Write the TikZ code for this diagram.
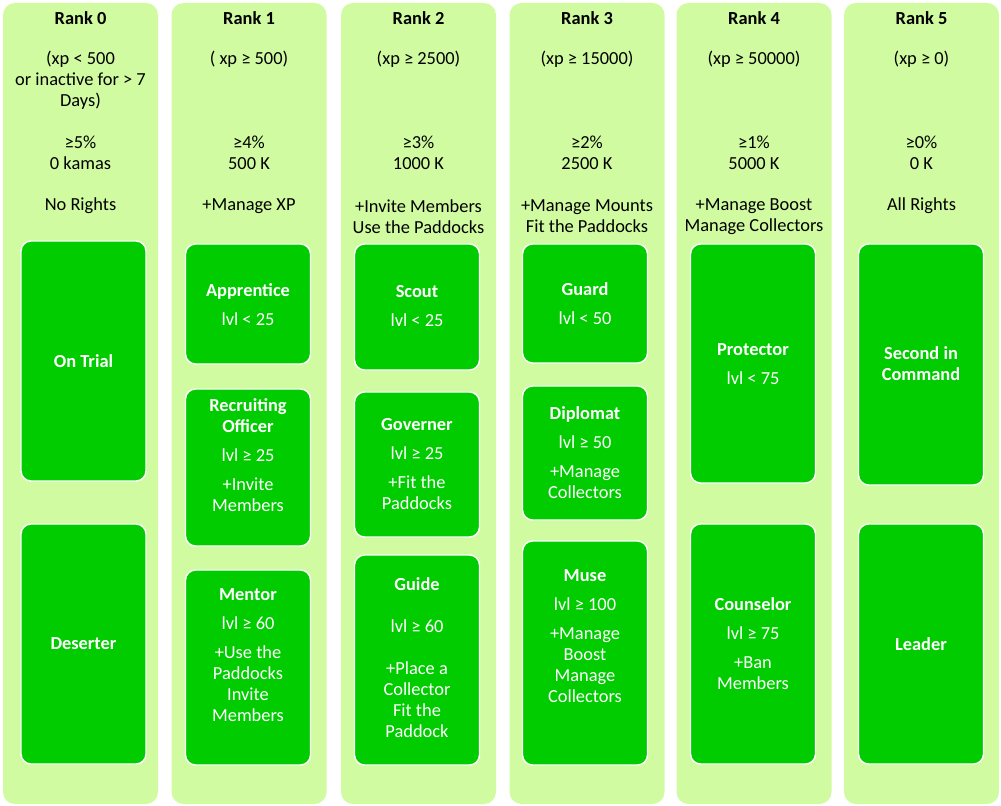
\documentclass[tikz,border=0pt]{standalone}
\usepackage{fontspec}
\setmainfont{Carlito}
\usepackage{xcolor}
\definecolor{lightlime}{RGB}{208, 251, 160}
\definecolor{rolegreen}{RGB}{0, 204, 0}
\newcommand{\ranksize}{\fontsize{13.8pt}{15.75pt}\selectfont}

\begin{document}
\begin{tikzpicture}[x=0.75pt, y=-0.75pt,
    rankcol/.style={fill=lightlime, rounded corners=9pt, minimum width=116.25pt, minimum height=600.75pt, inner sep=0pt},
    rankhead/.style={font=\ranksize\bfseries, align=center, inner sep=0pt},
    rankinfo/.style={font=\ranksize, align=center, inner sep=0pt},
    rolebox/.style={fill=rolegreen, draw=white, line width=1.1pt, rounded corners=7.5pt, minimum width=93.75pt, inner sep=0pt},
    roletext/.style={font=\ranksize, text=white, align=center, inner sep=0pt}]
        \useasboundingbox (0,0) rectangle (1001,806);

        % rank columns
        \node[rankcol] (col0) at (80.5,403.5) {};
        \node[rankcol] (col1) at (249,403.5) {};
        \node[rankcol] (col2) at (418.5,403.5) {};
        \node[rankcol] (col3) at (587,403.5) {};
        \node[rankcol] (col4) at (754,403.5) {};
        \node[rankcol] (col5) at (921.5,403.5) {};

        % headers
        \node[rankhead] (rank0) at (80.5,18) {Rank 0};
        \node[rankhead] (rank1) at (249,18) {Rank 1};
        \node[rankhead] (rank2) at (418.5,18) {Rank 2};
        \node[rankhead] (rank3) at (587,18) {Rank 3};
        \node[rankhead] (rank4) at (754,18) {Rank 4};
        \node[rankhead] (rank5) at (921.5,18) {Rank 5};

        \node[rankinfo] (cond0) at (80.5,80) {(xp < 500\\or inactive for > 7\\Days)};
        \node[rankinfo] (cond1) at (249,59) {( xp ≥ 500)};
        \node[rankinfo] (cond2) at (418.5,59) {(xp ≥ 2500)};
        \node[rankinfo] (cond3) at (587,59) {(xp ≥ 15000)};
        \node[rankinfo] (cond4) at (754,59) {(xp ≥ 50000)};
        \node[rankinfo] (cond5) at (921.5,59) {(xp ≥ 0)};

        \node[rankinfo] (tax0) at (80.5,153) {≥5\%\\0 kamas};
        \node[rankinfo] (tax1) at (249,153) {≥4\%\\500 K};
        \node[rankinfo] (tax2) at (418.5,153) {≥3\%\\1000 K};
        \node[rankinfo] (tax3) at (587,153) {≥2\%\\2500 K};
        \node[rankinfo] (tax4) at (754,153) {≥1\%\\5000 K};
        \node[rankinfo] (tax5) at (921.5,153) {≥0\%\\0 K};

        \node[rankinfo] (rights0) at (80.5,206) {No Rights};
        \node[rankinfo] (rights1) at (249,206) {+Manage XP};
        \node[rankinfo] (rights2) at (418.5,216.5) {+Invite Members\\Use the Paddocks};
        \node[rankinfo] (rights3) at (587,216.5) {+Manage Mounts\\Fit the Paddocks};
        \node[rankinfo] (rights4) at (754,216.5) {+Manage Boost\\Manage Collectors};
        \node[rankinfo] (rights5) at (921.5,206) {All Rights};

        % rank 0
        \node[rolebox, minimum height=180pt] (ontrial) at (83.5,361) {};
        \node[rolebox, minimum height=180pt] (deserter) at (83.5,644) {};
        \node[roletext] (ontrial-t) at (83.5,361) {\textbf{On Trial}};
        \node[roletext] (deserter-t) at (83.5,644) {\textbf{Deserter}};

        % rank 1
        \node[rolebox, minimum height=90pt] (apprentice) at (248,304) {};
        \node[rolebox, minimum height=117.75pt] (recruiter) at (248,467.5) {};
        \node[rolebox, minimum height=146.25pt] (mentor) at (248,667.5) {};
        \node[roletext] (apprentice-t) at (248,304.5) {\textbf{Apprentice}\\[6pt]lvl < 25};
        \node[roletext] (recruiter-t) at (248,455) {\textbf{Recruiting}\\\textbf{Officer}\\[6pt]lvl ≥ 25\\[6pt]+Invite\\Members};
        \node[roletext] (mentor-t) at (248,655) {\textbf{Mentor}\\[6pt]lvl ≥ 60\\[6pt]+Use the\\Paddocks\\Invite\\Members};

        % rank 2
        \node[rolebox, minimum height=94.5pt] (scout) at (417,307) {};
        \node[rolebox, minimum height=108.75pt] (governer) at (417,464.5) {};
        \node[rolebox, minimum height=157.5pt] (guide) at (417,660) {};
        \node[roletext] (scout-t) at (417,306.5) {\textbf{Scout}\\[6pt]lvl < 25};
        \node[roletext] (governer-t) at (417,464) {\textbf{Governer}\\[6pt]lvl ≥ 25\\[6pt]+Fit the\\Paddocks};
        \node[roletext] (guide-t) at (417,658) {\textbf{Guide}\\[15.75pt]lvl ≥ 60\\[15.75pt]+Place a\\Collector\\Fit the\\Paddock};

        % rank 3
        \node[rolebox, minimum height=89.25pt] (guard) at (585,303.5) {};
        \node[rolebox, minimum height=100.5pt] (diplomat) at (585,453) {};
        \node[rolebox, minimum height=168pt] (muse) at (585,653) {};
        \node[roletext] (guard-t) at (585,303.5) {\textbf{Guard}\\[6pt]lvl < 50};
        \node[roletext] (diplomat-t) at (585,452.5) {\textbf{Diplomat}\\[6pt]lvl ≥ 50\\[6pt]+Manage\\Collectors};
        \node[roletext] (muse-t) at (585,636) {\textbf{Muse}\\[6pt]lvl ≥ 100\\[6pt]+Manage\\Boost\\Manage\\Collectors};

        % rank 4
        \node[rolebox, minimum height=179.25pt] (protector) at (753,363.5) {};
        \node[rolebox, minimum height=180pt] (counselor) at (753,644) {};
        \node[roletext] (protector-t) at (753,364.5) {\textbf{Protector}\\[6pt]lvl < 75};
        \node[roletext] (counselor-t) at (753,644) {\textbf{Counselor}\\[6pt]lvl ≥ 75\\[6pt]+Ban\\Members};

        % rank 5
        \node[rolebox, minimum height=180.75pt] (second) at (921,364.5) {};
        \node[rolebox, minimum height=180pt] (leader) at (921,644) {};
        \node[roletext] (second-t) at (921,364) {\textbf{Second in}\\\textbf{Command}};
        \node[roletext] (leader-t) at (921,644) {\textbf{Leader}};
    \end{tikzpicture}
\end{document}
